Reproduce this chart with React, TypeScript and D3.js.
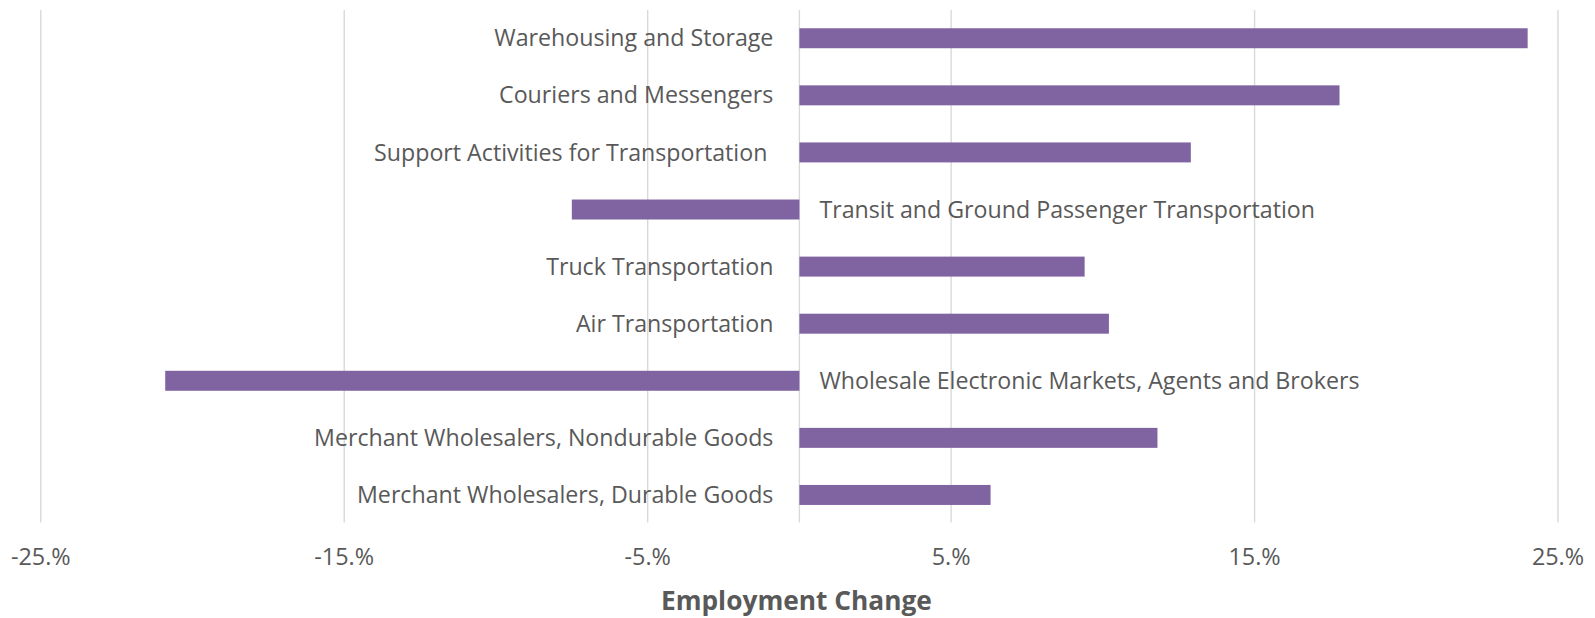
import React from "react";
import * as d3 from "d3";

const categories = [
  "Warehousing and Storage",
  "Couriers and Messengers",
  "Support Activities for Transportation ",
  "Transit and Ground Passenger Transportation",
  "Truck Transportation",
  "Air Transportation",
  "Wholesale Electronic Markets, Agents and Brokers",
  "Merchant Wholesalers, Nondurable Goods",
  "Merchant Wholesalers, Durable Goods",
];
const values = [24.0, 17.8, 12.9, -7.5, 9.4, 10.2, -20.9, 11.8, 6.3];
const tickValues = [-25, -15, -5, 5, 15, 25];
const axisTitle = "Employment Change";

const W = 1595;
const H = 618;
const FONT = "'Open Sans', sans-serif";
const TEXT = "#595959";

export default function App() {
  const x = d3.scaleLinear().domain([-25, 25]).range([40.8, 1558]);
  const y = d3
    .scaleBand<string>()
    .domain(categories)
    .range([9.7, 523.5])
    .paddingInner(0.65)
    .paddingOuter(0.325);
  const x0 = x(0);
  return (
    <svg
      width={W}
      height={H}
      style={{ position: "absolute", left: 0, top: 0, background: "#fff" }}
      fontFamily={FONT}
    >
      {[...tickValues, 0].map((t) => (
        <line
          key={"g" + t}
          x1={x(t)}
          x2={x(t)}
          y1={10}
          y2={522.5}
          stroke="#d9d9d9"
          strokeWidth={1.4}
        />
      ))}
      {categories.map((c, i) => {
        const v = values[i];
        const y0 = y(c)!;
        const bw = y.bandwidth();
        return (
          <g key={c}>
            <rect
              x={Math.min(x(v), x0)}
              y={y0}
              width={Math.abs(x(v) - x0)}
              height={bw}
              fill="#8064a2"
            />
            <text
              x={v >= 0 ? x0 - 26 : x0 + 20}
              y={y0 + bw / 2}
              dy="0.35em"
              textAnchor={v >= 0 ? "end" : "start"}
              fontSize={23.2}
              fill={TEXT}
              style={{ whiteSpace: "pre" }}
            >
              {c}
            </text>
          </g>
        );
      })}
      {tickValues.map((t) => (
        <text
          key={"t" + t}
          x={x(t)}
          y={565}
          textAnchor="middle"
          fontSize={23.4}
          fill={TEXT}
        >
          {`${t}.%`}
        </text>
      ))}
      <text
        x={x0 - 3}
        y={610}
        textAnchor="middle"
        fontSize={26.3}
        fontWeight="bold"
        fill={TEXT}
      >
        {axisTitle}
      </text>
    </svg>
  );
}
